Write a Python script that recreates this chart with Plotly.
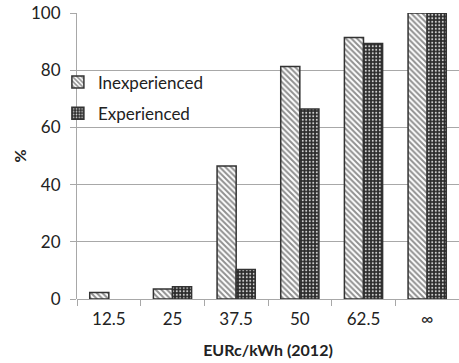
import plotly.graph_objects as go

categories = ["12.5", "25", "37.5", "50", "62.5", "∞"]
inexperienced = [2.3, 3.5, 46.5, 81.3, 91.4, 100]
experienced = [None, 4.3, 10.3, 66.4, 89.3, 100]
y_ticks = [0, 20, 40, 60, 80, 100]

font_family = "Lato, 'Open Sans', sans-serif"

fig = go.Figure()
fig.add_trace(go.Bar(
    x=categories, y=inexperienced, name="Inexperienced",
    legendgroup="a",
    marker=dict(
        color="white",
        line=dict(color="#333333", width=1.5),
        pattern=dict(shape="\\", fgcolor="#222222", bgcolor="white", size=4, solidity=0.5),
    ),
))
fig.add_trace(go.Bar(
    x=categories, y=experienced, name="Experienced",
    legendgroup="b",
    marker=dict(
        color="#2a2a2a",
        line=dict(color="#333333", width=1.5),
        pattern=dict(shape=".", fgcolor="#d0d0d0", bgcolor="#2a2a2a", size=3.5, solidity=0.28,
                     fillmode="replace"),
    ),
))

fig.update_layout(
    width=459, height=363,
    margin=dict(l=77, r=0, t=13, b=64, autoexpand=False),
    paper_bgcolor="white", plot_bgcolor="white",
    barmode="group", bargap=0.4, bargroupgap=0,
    font=dict(family=font_family, size=17, color="#222222"),
    legend=dict(
        x=-0.05, y=0.82, xanchor="left", yanchor="top",
        bgcolor="rgba(0,0,0,0)", font=dict(size=17, family=font_family),
        tracegroupgap=6, traceorder="grouped",
        itemwidth=30,
    ),
    showlegend=True,
)
fig.update_xaxes(
    type="category", automargin=False,
    tickson="boundaries", ticks="outside", ticklen=6, tickcolor="#a8a8a8",
    ticklabelstandoff=8,
    showline=False, showgrid=False,
    title=dict(text="<b>EURc/kWh (2012)</b>", font=dict(size=16, family=font_family), standoff=16),
    tickfont=dict(size=17, family=font_family),
)
fig.update_yaxes(
    range=[0, 100], tickvals=y_ticks, automargin=False,
    showgrid=True, gridcolor="#a8a8a8", gridwidth=1,
    zeroline=True, zerolinecolor="#a8a8a8", zerolinewidth=1,
    showline=True, linecolor="#a8a8a8", linewidth=1,
    ticks="outside", ticklen=6, tickcolor="#a8a8a8",
    ticklabelstandoff=6,
    title=dict(text="<b>%</b>", font=dict(size=16, family=font_family), standoff=0),
    tickfont=dict(size=17, family=font_family),
)

fig.write_html(
    "out.html",
    config={"displayModeBar": False},
    post_script="document.body.style.margin='0';document.body.style.overflow='hidden';",
)
